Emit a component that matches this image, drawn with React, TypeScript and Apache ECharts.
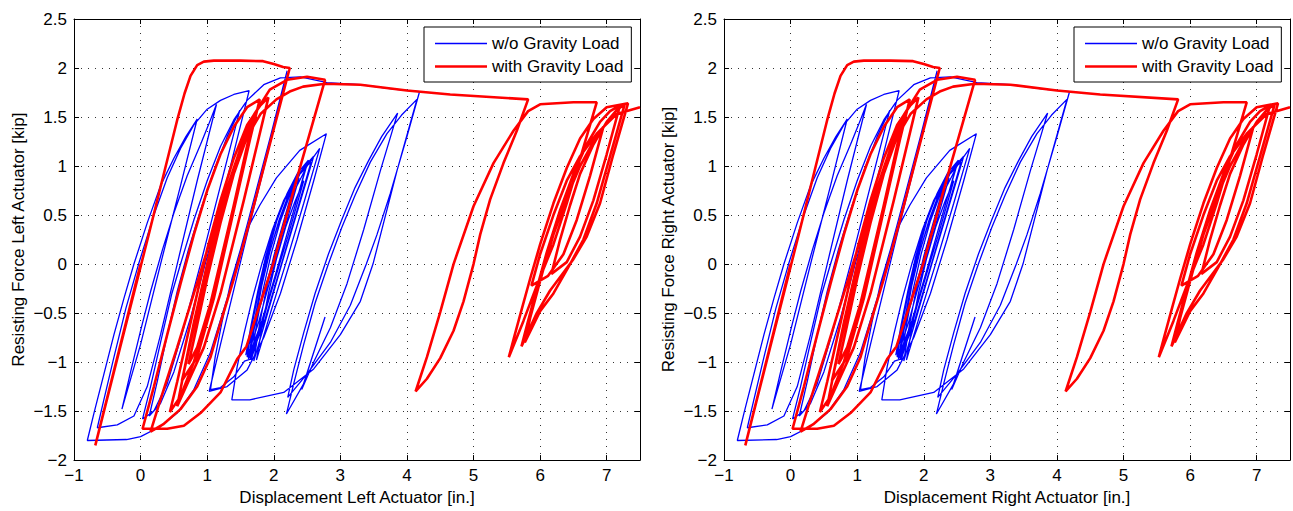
import React, { useEffect, useRef } from 'react';
import * as echarts from 'echarts';

type Pt = [number, number];

// ---------- axis settings ----------
const xMin = -1;
const xMax = 7.5;
const xStep = 1;
const yMin = -2;
const yMax = 2.5;
const yStep = 0.5;

const legendNames = ['w/o Gravity Load', 'with Gravity Load'];
const xTitles = ['Displacement Left Actuator [in.]', 'Displacement Right Actuator [in.]'];
const yTitles = ['Resisting Force Left Actuator [kip]', 'Resisting Force Right Actuator [kip]'];

// ---------- w/o gravity load (blue) ----------
const blueBundle: Pt[] = [
  [1.62, -0.97], [1.70, -0.62], [1.80, -0.25], [1.92, 0.12], [2.05, 0.45], [2.20, 0.72], [2.36, 0.93], [2.52, 1.06],
  [2.30, 0.55], [2.05, -0.05], [1.85, -0.55], [1.66, -0.98],
  [1.74, -0.62], [1.84, -0.26], [1.96, 0.10], [2.10, 0.44], [2.26, 0.74], [2.44, 0.98], [2.60, 1.10],
  [2.37, 0.57], [2.12, 0.00], [1.90, -0.52], [1.70, -0.99],
  [1.78, -0.64], [1.88, -0.28], [2.00, 0.08], [2.15, 0.44], [2.32, 0.76], [2.50, 1.00], [2.69, 1.18],
  [2.45, 0.62], [2.20, 0.05], [1.95, -0.50], [1.74, -0.98],
  [1.82, -0.65], [1.92, -0.30], [2.04, 0.05], [2.18, 0.38], [2.32, 0.64], [2.45, 0.85],
  [2.22, 0.30], [2.00, -0.20], [1.80, -0.65], [1.64, -0.96],
  [1.72, -0.60], [1.82, -0.22], [1.95, 0.15], [2.10, 0.48], [2.25, 0.72], [2.38, 0.88],
  [2.17, 0.38], [1.95, -0.15], [1.77, -0.60], [1.60, -0.95],
  [1.68, -0.60], [1.78, -0.25], [1.90, 0.12], [2.03, 0.42], [2.17, 0.66], [2.30, 0.80],
  [2.10, 0.32], [1.90, -0.18], [1.72, -0.62], [1.58, -0.93],
  [1.66, -0.62], [1.76, -0.28], [1.88, 0.08], [2.02, 0.40], [2.18, 0.68], [2.34, 0.88], [2.48, 0.98],
  [2.26, 0.45], [2.02, -0.12], [1.82, -0.58], [1.62, -0.96],
  [1.70, -0.63], [1.80, -0.27], [1.93, 0.10], [2.08, 0.45], [2.24, 0.74], [2.40, 0.94], [2.56, 1.04],
  [2.33, 0.50], [2.08, -0.08], [1.87, -0.56], [1.65, -0.97], [1.56, -0.99],
];

const blueMid: Pt[] = [
  [1.40, -1.15], [1.20, -1.26], [1.05, -1.28],
  [1.12, -0.95], [1.22, -0.60], [1.35, -0.20], [1.50, 0.15], [1.65, 0.42], [1.79, 0.60], [2.04, 0.88], [2.39, 1.16], [2.79, 1.33],
  [2.60, 0.85], [2.35, 0.25], [2.10, -0.30], [1.85, -0.75], [1.60, -1.08], [1.30, -1.25], [1.03, -1.30],
  [1.20, -0.82], [1.40, -0.26], [1.60, 0.30], [1.80, 0.84], [2.00, 1.38], [2.20, 1.97],
  [1.95, 1.30], [1.60, 0.40], [1.30, -0.35], [1.05, -0.90], [0.80, -1.28], [0.55, -1.52], [0.29, -1.66],
  [0.00, -1.76], [-0.21, -1.79], [-0.80, -1.80],
];

const blueLeftLoops: Pt[] = [
  [-0.70, -1.52], [-0.55, -1.12], [-0.40, -0.72], [-0.25, -0.35], [-0.10, 0.00], [0.10, 0.42], [0.30, 0.80], [0.50, 1.08], [0.68, 1.30], [0.85, 1.48],
  [0.60, 0.80], [0.30, 0.00], [0.00, -0.82], [-0.28, -1.48],
  [-0.15, -1.10], [0.00, -0.68], [0.15, -0.28], [0.33, 0.15], [0.50, 0.52], [0.70, 0.90], [0.90, 1.22], [1.02, 1.42], [1.14, 1.63],
  [0.85, 0.85], [0.55, 0.00], [0.30, -0.72], [0.10, -1.25], [-0.10, -1.55], [-0.35, -1.64], [-0.65, -1.67],
  [-0.55, -1.38], [-0.40, -0.95], [-0.22, -0.45], [-0.03, 0.00], [0.20, 0.50], [0.40, 0.88], [0.60, 1.18], [0.80, 1.42], [1.00, 1.58], [1.20, 1.67], [1.40, 1.73], [1.63, 1.77],
  [1.35, 1.00], [1.05, 0.20], [0.75, -0.55], [0.50, -1.10], [0.30, -1.42], [0.13, -1.55],
  [0.25, -1.20], [0.40, -0.72], [0.55, -0.28], [0.72, 0.15], [0.90, 0.55], [1.10, 0.95], [1.30, 1.30], [1.49, 1.57],
  [1.20, 0.80], [0.90, 0.00], [0.62, -0.72], [0.40, -1.22], [0.20, -1.50], [0.03, -1.58],
  [0.15, -1.25], [0.30, -0.80], [0.47, -0.30], [0.60, 0.00], [0.80, 0.45], [1.00, 0.85], [1.20, 1.20], [1.40, 1.47], [1.60, 1.67], [1.85, 1.83], [2.10, 1.90], [2.40, 1.91], [2.80, 1.85], [3.30, 1.83], [3.80, 1.785], [4.19, 1.76],
];

const blueRightLoops: Pt[] = [
  [4.00, 1.30], [3.75, 0.72], [3.55, 0.30], [3.39, 0.00], [3.15, -0.42], [2.85, -0.80], [2.50, -1.12], [2.21, -1.36],
  [2.30, -1.08], [2.45, -0.70], [2.62, -0.30], [2.82, 0.10], [3.02, 0.45], [3.22, 0.78], [3.42, 1.05], [3.62, 1.30], [3.86, 1.54],
  [3.60, 0.95], [3.35, 0.35], [3.10, -0.20], [2.85, -0.65], [2.60, -1.00], [2.42, -1.28], [2.77, -0.54], [2.45, -1.22], [2.19, -1.53],
  [2.30, -1.22], [2.45, -0.82], [2.62, -0.40], [2.82, 0.00], [3.02, 0.37], [3.22, 0.70], [3.45, 1.04], [3.70, 1.33], [3.92, 1.52], [4.15, 1.68],
  [3.85, 0.95], [3.49, 0.00], [3.30, -0.38], [3.00, -0.72], [2.60, -1.07], [2.15, -1.31], [1.64, -1.385], [1.37, -1.385],
  [1.45, -1.05], [1.55, -0.72], [1.68, -0.35], [1.82, 0.00], [1.98, 0.35], [2.15, 0.65], [2.35, 0.90], [2.50, 1.02],
];

// ---------- with gravity load (red) ----------
const redLeftLoops: Pt[] = [
  [0.00, 0.00], [-0.68, -1.85], [-0.30, -0.83], [0.10, 0.24], [0.55, 1.47], [0.66, 1.74], [0.75, 1.92], [0.85, 2.03], [0.95, 2.065],
  [1.10, 2.075], [1.50, 2.075], [1.84, 2.07], [2.00, 2.04], [2.14, 2.01], [2.24, 2.00],
  [1.94, 1.22], [1.64, 0.44], [1.40, -0.15], [1.20, -0.60], [1.05, -0.95], [0.85, -1.25], [0.60, -1.48], [0.35, -1.63], [0.15, -1.71],
  [0.30, -1.38], [0.55, -0.85], [0.80, -0.30], [1.05, 0.25], [1.30, 0.78], [1.50, 1.18], [1.70, 1.52], [1.94, 1.78], [2.20, 1.88], [2.50, 1.91], [2.77, 1.88],
  [2.40, 1.00], [1.99, 0.00], [1.75, -0.50], [1.59, -0.84], [1.45, -0.97], [1.20, -1.31], [0.90, -1.52], [0.65, -1.65], [0.40, -1.68], [0.03, -1.68],
];

const redDenseLoops: Pt[] = [
  [0.20, -1.25], [0.40, -0.72], [0.60, -0.20], [0.80, 0.30], [1.00, 0.75], [1.20, 1.12], [1.40, 1.40], [1.60, 1.60], [1.79, 1.68],
  [1.40, 0.60], [1.05, -0.40], [0.80, -1.00], [0.60, -1.35], [0.44, -1.51],
  [0.55, -1.20], [0.70, -0.75], [0.85, -0.30], [1.00, 0.15], [1.20, 0.65], [1.40, 1.08], [1.60, 1.42], [1.80, 1.62], [1.92, 1.70],
  [1.55, 0.65], [1.20, -0.30], [0.95, -0.85], [0.75, -1.15], [0.55, -1.45],
  [0.65, -1.10], [0.80, -0.60], [0.95, -0.15], [1.10, 0.30], [1.30, 0.78], [1.50, 1.15], [1.65, 1.38], [1.72, 1.50],
  [1.40, 0.55], [1.10, -0.35], [0.85, -0.95], [0.62, -1.19],
  [0.75, -0.80], [0.90, -0.35], [1.05, 0.10], [1.20, 0.50], [1.40, 0.95], [1.55, 1.25], [1.68, 1.45],
  [1.35, 0.45], [1.05, -0.40], [0.85, -0.85], [0.72, -1.02],
  [0.85, -0.62], [1.00, -0.15], [1.20, 0.42], [1.40, 0.92], [1.60, 1.30], [1.80, 1.53], [2.04, 1.68], [2.24, 1.76], [2.44, 1.81], [2.77, 1.84],
  [3.30, 1.83], [4.00, 1.77], [4.65, 1.73], [5.82, 1.68],
];

const redRightLoops: Pt[] = [
  [5.65, 1.36], [5.45, 1.03], [5.25, 0.66], [5.10, 0.30], [5.00, 0.00], [4.85, -0.38], [4.70, -0.68], [4.50, -0.96], [4.30, -1.17], [4.13, -1.30],
  [4.30, -0.95], [4.50, -0.49], [4.70, 0.00], [5.00, 0.59], [5.30, 1.03], [5.60, 1.36], [5.82, 1.56], [6.00, 1.63], [6.50, 1.65], [6.85, 1.65],
  [6.62, 1.12], [6.40, 0.62], [6.20, 0.20], [5.95, -0.22], [5.75, -0.58], [5.53, -0.95],
  [5.62, -0.72], [5.72, -0.47], [5.85, -0.15], [6.00, 0.20], [6.20, 0.62], [6.40, 0.98], [6.60, 1.28], [6.80, 1.48], [7.00, 1.60], [7.32, 1.64],
  [7.10, 1.12], [6.90, 0.62], [6.70, 0.28], [6.50, 0.05], [6.15, -0.27], [5.95, -0.50], [5.72, -0.84],
  [5.82, -0.58], [5.95, -0.25], [6.10, 0.12], [6.30, 0.55], [6.50, 0.92], [6.70, 1.22], [6.90, 1.45], [7.05, 1.56], [7.20, 1.62],
  [7.00, 1.12], [6.80, 0.65], [6.60, 0.28], [6.40, 0.02], [6.17, -0.10],
  [6.30, 0.25], [6.45, 0.60], [6.60, 0.92], [6.80, 1.22], [7.00, 1.45], [7.15, 1.57], [7.27, 1.63],
  [7.05, 1.10], [6.85, 0.62], [6.65, 0.25], [6.45, 0.00], [6.20, -0.30], [6.00, -0.48], [5.77, -0.80],
  [5.85, -0.55], [5.95, -0.30], [6.05, -0.05], [6.20, 0.30], [6.40, 0.68], [6.60, 1.00], [6.80, 1.25], [6.95, 1.40],
  [6.75, 0.90], [6.55, 0.45], [6.35, 0.10], [6.12, -0.12], [5.87, -0.22],
  [6.00, 0.10], [6.20, 0.50], [6.40, 0.85], [6.60, 1.10], [6.85, 1.33], [7.15, 1.53], [7.50, 1.60],
];

const blueSeries: Pt[] = [...blueBundle, ...blueMid, ...blueLeftLoops, ...blueRightLoops];
const redSeries: Pt[] = [...redLeftLoops, ...redDenseLoops, ...redRightLoops];

const FONT = '"Liberation Sans", Arial, Helvetica, sans-serif';
const fmt = (v: number) => String(v).replace('-', '\u2212');

const GRID_TOP = 19;
const GRID_H = 446;
const GRID_W = 566;
const GRID_LEFTS = [74, 724];

function buildOption() {
  const grid: any[] = [];
  const xAxis: any[] = [];
  const yAxis: any[] = [];
  const series: any[] = [];
  const legend: any[] = [];

  GRID_LEFTS.forEach((left, i) => {
    grid.push({ left, top: GRID_TOP, width: GRID_W, height: GRID_H, containLabel: false, show: false });

    const common = {
      type: 'value',
      gridIndex: i,
      axisLine: { show: true, onZero: false, lineStyle: { color: '#000', width: 1 } },
      axisTick: { show: true, inside: true, length: 5, lineStyle: { color: '#000', width: 1 } },
    };
    xAxis.push({
      ...common,
      position: 'bottom',
      min: xMin,
      max: xMax,
      interval: xStep,
      name: xTitles[i],
      nameLocation: 'middle',
      nameGap: 26,
      nameTextStyle: { fontFamily: FONT, fontSize: 17, color: '#000' },
      axisLabel: { show: true, margin: 7, fontFamily: FONT, fontSize: 17, color: '#000', formatter: fmt, showMaxLabel: false },
      splitLine: { show: true, lineStyle: { color: '#333', width: 1, type: [1, 6] } },
    });
    xAxis.push({
      ...common,
      position: 'top',
      min: xMin,
      max: xMax,
      interval: xStep,
      axisLabel: { show: false },
      splitLine: { show: false },
    });
    yAxis.push({
      ...common,
      position: 'left',
      min: yMin,
      max: yMax,
      interval: yStep,
      name: yTitles[i],
      nameLocation: 'middle',
      nameGap: 47,
      nameTextStyle: { fontFamily: FONT, fontSize: 17, color: '#000' },
      axisLabel: { show: true, margin: 7, fontFamily: FONT, fontSize: 17, color: '#000', formatter: fmt },
      splitLine: { show: true, lineStyle: { color: '#333', width: 1, type: [1, 6] } },
    });
    yAxis.push({
      ...common,
      position: 'right',
      min: yMin,
      max: yMax,
      interval: yStep,
      axisLabel: { show: false },
      splitLine: { show: false },
    });

    series.push({
      type: 'line',
      name: legendNames[0],
      xAxisIndex: i * 2,
      yAxisIndex: i * 2,
      data: blueSeries,
      symbol: 'none',
      showSymbol: false,
      clip: true,
      silent: true,
      lineStyle: { color: '#0000ff', width: 1.3 },
      itemStyle: { color: '#0000ff' },
      z: 2,
    });
    series.push({
      type: 'line',
      name: legendNames[1],
      xAxisIndex: i * 2,
      yAxisIndex: i * 2,
      data: redSeries,
      symbol: 'none',
      showSymbol: false,
      clip: true,
      silent: true,
      lineStyle: { color: '#ff0000', width: 2.6 },
      itemStyle: { color: '#ff0000' },
      z: 3,
    });

    legend.push({
      show: true,
      orient: 'vertical',
      left: left + 350,
      top: 27,
      padding: [8, 8, 7, 11],
      itemWidth: 52,
      itemHeight: 14,
      itemGap: 6,
      symbolKeepAspect: true,
      borderColor: '#000',
      borderWidth: 1,
      borderRadius: 0,
      backgroundColor: '#fff',
      selectedMode: false,
      textStyle: { fontFamily: FONT, fontSize: 17, color: '#000' },
      data: [
        { name: legendNames[0], icon: 'path://M0 0H52V1.4H0Z', itemStyle: { color: '#0000ff', borderWidth: 0 } },
        { name: legendNames[1], icon: 'path://M0 0H52V2.7H0Z', itemStyle: { color: '#ff0000', borderWidth: 0 } },
      ],
      z: 10,
    });
  });

  return {
    animation: false,
    backgroundColor: '#fff',
    grid,
    xAxis,
    yAxis,
    legend,
    series,
  };
}

export default function App() {
  const ref = useRef<HTMLDivElement>(null);
  useEffect(() => {
    if (!ref.current) return;
    const chart = echarts.init(ref.current, undefined, { renderer: 'svg' });
    chart.setOption(buildOption() as any);
    return () => chart.dispose();
  }, []);
  return (
    <div
      ref={ref}
      style={{ position: 'fixed', left: 0, top: 0, width: 1293, height: 511, background: '#fff' }}
    />
  );
}
